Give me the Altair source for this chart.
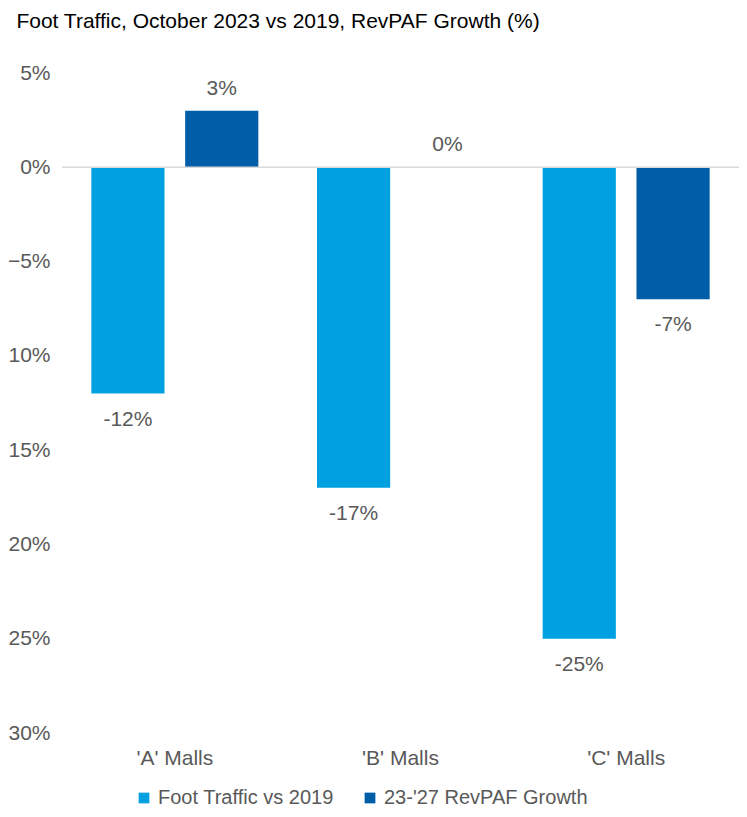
import altair as alt
import pandas as pd

categories = ["'A' Malls", "'B' Malls", "'C' Malls"]
series = ["Foot Traffic vs 2019", "23-'27 RevPAF Growth"]
foot_traffic = [-12, -17, -25]
revpaf_growth = [3, 0, -7]
colors = ["#00A0E1", "#005DA8"]

rows = []
for i, c in enumerate(categories):
    rows.append({"cat": c, "series": series[0], "value": foot_traffic[i]})
    rows.append({"cat": c, "series": series[1], "value": revpaf_growth[i]})
df = pd.DataFrame(rows)
df["label"] = df["value"].map(lambda v: f"{v}%")

FONT = "Liberation Sans"
GRAY = "#595959"

x = alt.X("cat:N", sort=categories, title=None,
          scale=alt.Scale(paddingInner=0.26, paddingOuter=0.13),
          axis=alt.Axis(labelAngle=0, ticks=False, domain=False, labelPadding=14,
                        labelFontSize=21, labelColor=GRAY, labelFont=FONT))
xo = alt.XOffset("series:N", sort=series, scale=alt.Scale(paddingInner=0.22, paddingOuter=0))
y = alt.Y("value:Q", title=None,
          scale=alt.Scale(domain=[-30, 5], nice=False),
          axis=alt.Axis(values=[5, 0, -5, -10, -15, -20, -25, -30], grid=False, ticks=False,
                        domain=False, labelPadding=12, labelFontSize=21, labelColor=GRAY,
                        labelFont=FONT,
                        labelExpr="datum.value <= -10 ? format(-datum.value, 'd') + '%' : format(datum.value, 'd') + '%'"))

base = alt.Chart(df)

bars = base.mark_bar().encode(
    x=x, xOffset=xo, y=y,
    color=alt.Color("series:N", sort=series,
                    scale=alt.Scale(domain=series, range=colors),
                    legend=alt.Legend(title=None, orient="none", direction="horizontal",
                                      legendX=72, legendY=715, symbolType="square",
                                      symbolSize=115, symbolStrokeWidth=0, labelFontSize=20,
                                      labelColor=GRAY, labelFont=FONT, columnPadding=26,
                                      labelLimit=400, symbolOffset=0, labelOffset=4))
)

zero = alt.Chart(pd.DataFrame({"v": [0]})).mark_rule(color="#D9D9D9", strokeWidth=1.5).encode(
    y=alt.Y("v:Q")
)

pos_text = base.transform_filter("datum.value >= 0").mark_text(
    baseline="alphabetic", dy=-16, fontSize=21, color=GRAY, font=FONT
).encode(x=x, xOffset=xo, y=y, text="label:N")

neg_text = base.transform_filter("datum.value < 0").mark_text(
    baseline="alphabetic", dy=32, fontSize=21, color=GRAY, font=FONT
).encode(x=x, xOffset=xo, y=y, text="label:N")

chart = alt.layer(bars, zero, pos_text, neg_text).properties(
    width=677, height=660,
    autosize=alt.AutoSizeParams(type="none"),
    padding={"left": 54, "top": 65, "right": 0, "bottom": 76},
    title=alt.Title("Foot Traffic, October 2023 vs 2019, RevPAF Growth (%)",
                    anchor="start", frame="bounds", dx=9, offset=30, fontSize=21, font=FONT,
                    fontWeight="normal", color="#000000"),
).configure_view(stroke=None)

chart.save("out.html", embed_options={"renderer": "svg", "actions": False})
